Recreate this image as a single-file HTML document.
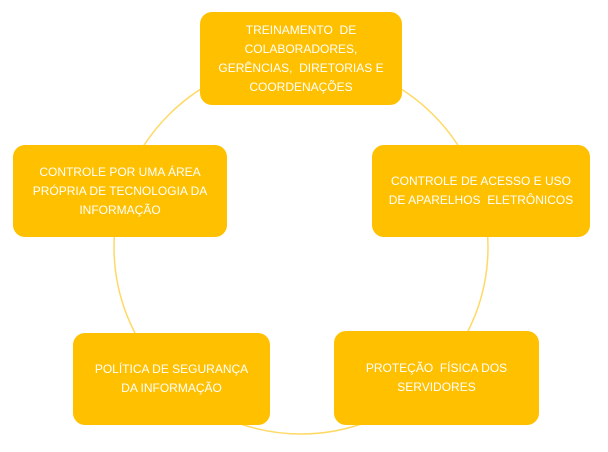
<!DOCTYPE html>
<html><head><meta charset="utf-8"><style>
body{margin:0;width:608px;height:452px;background:#fff;position:relative;overflow:hidden;font-family:"Liberation Sans",sans-serif;}
.b{position:absolute;background:#FFC000;border-radius:12px;color:#fff;font-size:12px;line-height:19px;display:flex;align-items:center;justify-content:center;text-align:center;box-sizing:border-box;padding:0 8px;}
svg{position:absolute;left:0;top:0}
</style></head><body>
<svg width="608" height="452"><circle cx="301" cy="247" r="187" fill="none" stroke="#FFD966" stroke-width="1.5"/></svg>
<div class="b" style="left:200px;top:12px;width:202px;height:93px;">TREINAMENTO&nbsp; DE<br>COLABORADORES,<br>GERÊNCIAS,&nbsp; DIRETORIAS E<br>COORDENAÇÕES</div>
<div class="b" style="left:372px;top:145px;width:218px;height:92px;">CONTROLE DE ACESSO E USO<br>DE APARELHOS&nbsp; ELETRÔNICOS</div>
<div class="b" style="left:334px;top:331px;width:205px;height:94px;">PROTEÇÃO&nbsp; FÍSICA DOS<br>SERVIDORES</div>
<div class="b" style="left:73px;top:333px;width:197px;height:92px;">POLÍTICA DE SEGURANÇA<br>DA INFORMAÇÃO</div>
<div class="b" style="left:13px;top:145px;width:214px;height:92px;">CONTROLE POR UMA ÁREA<br>PRÓPRIA DE TECNOLOGIA DA<br>INFORMAÇÃO</div>
</body></html>
